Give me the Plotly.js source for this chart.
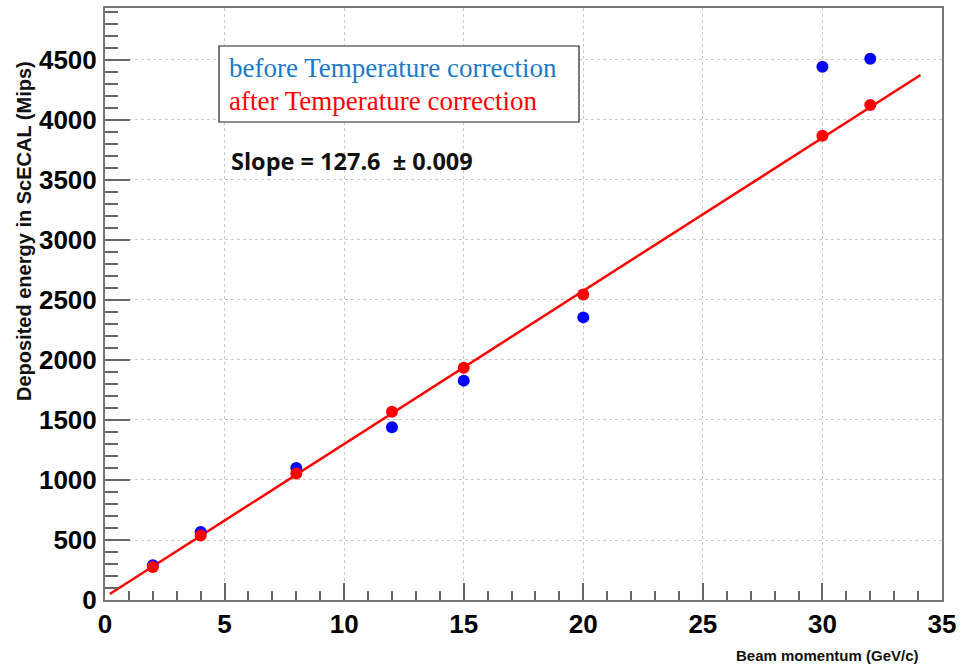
<!DOCTYPE html>
<html>
<head>
<meta charset="utf-8">
<script src="https://cdn.plot.ly/plotly-3.0.1.min.js"></script>
<style>html,body{margin:0;padding:0;background:#fff;}#chart{width:960px;height:667px;}</style>
</head>
<body>
<div id="chart"></div>
<script>
const momentum = [2, 4, 8, 12, 15, 20, 30, 32];
const beforeCorr = [290, 567, 1100, 1439, 1828, 2355, 4444, 4511];
const afterCorr = [275, 537, 1055, 1569, 1936, 2545, 3869, 4125];
const fitX = [0.2, 34.1];
const fitY = [50, 4375];
const legendLabels = ['before Temperature correction', 'after Temperature correction'];
const slopeText = 'Slope = 127.6  \u00b1 0.009';

const traces = [
  {x: fitX, y: fitY, mode: 'lines', line: {color: '#ff0000', width: 2.5}, hoverinfo: 'skip'},
  {x: momentum, y: beforeCorr, mode: 'markers', marker: {color: '#0000ff', size: 12}},
  {x: momentum, y: afterCorr, mode: 'markers', marker: {color: '#ff0000', size: 12}}
];

const tickFont = {family: 'Liberation Sans, Arial, sans-serif', size: 26, color: '#000', weight: 'bold'};

const layout = {
  width: 960, height: 667,
  margin: {l: 105, r: 18, t: 8, b: 67},
  paper_bgcolor: '#fff', plot_bgcolor: '#fff',
  showlegend: false,
  xaxis: {
    range: [0, 35], dtick: 5, tick0: 0,
    ticks: 'inside', ticklen: 17, tickwidth: 2, tickcolor: '#666',
    minor: {dtick: 1, ticks: 'inside', ticklen: 9, tickwidth: 2, tickcolor: '#666', showgrid: false},
    showgrid: true, gridcolor: '#c8c8c8', griddash: 'dot', gridwidth: 1,
    showline: true, linecolor: '#777', linewidth: 2, mirror: true,
    zeroline: false, tickfont: tickFont
  },
  yaxis: {
    range: [0, 4933], dtick: 500, tick0: 0,
    ticks: 'inside', ticklen: 25, tickwidth: 2, tickcolor: '#666',
    minor: {dtick: 100, ticks: 'inside', ticklen: 13, tickwidth: 2, tickcolor: '#666', showgrid: false},
    showgrid: true, gridcolor: '#c8c8c8', griddash: 'dot', gridwidth: 1,
    showline: true, linecolor: '#777', linewidth: 2, mirror: true,
    zeroline: false, tickfont: tickFont, ticklabelstandoff: 1
  },
  shapes: [
    {type: 'rect', xref: 'paper', yref: 'paper',
     x0: (219 - 105) / 837, x1: (579 - 105) / 837,
     y0: (600 - 122) / 592, y1: (600 - 46) / 592,
     line: {color: '#222', width: 1.2}, fillcolor: '#fff', layer: 'above'}
  ],
  annotations: [
    {text: legendLabels[0], xref: 'paper', yref: 'paper', x: (227 - 105) / 837, y: (600 - 68) / 592,
     xanchor: 'left', yanchor: 'middle', showarrow: false,
     font: {family: 'Liberation Serif, Times New Roman, serif', size: 27, color: '#1a7ac8'}},
    {text: legendLabels[1], xref: 'paper', yref: 'paper', x: (227 - 105) / 837, y: (600 - 101) / 592,
     xanchor: 'left', yanchor: 'middle', showarrow: false,
     font: {family: 'Liberation Serif, Times New Roman, serif', size: 27, color: '#ff0000'}},
    {text: slopeText, xref: 'paper', yref: 'paper', x: (229 - 105) / 837, y: (600 - 161) / 592,
     xanchor: 'left', yanchor: 'middle', showarrow: false,
     font: {family: 'Open Sans, Liberation Sans, sans-serif', size: 23.5, color: '#111', weight: 'bold'}},
    {text: 'Deposited energy in ScECAL (Mips)', xref: 'paper', yref: 'paper',
     x: (24 - 105) / 837, y: (600 - 231) / 592, textangle: -90,
     xanchor: 'center', yanchor: 'middle', showarrow: false,
     font: {family: 'Liberation Sans, Arial, sans-serif', size: 20, color: '#111', weight: 'bold'}},
    {text: 'Beam momentum (GeV/c)', xref: 'paper', yref: 'paper',
     x: (921 - 105) / 837, y: (600 - 655) / 592,
     xanchor: 'right', yanchor: 'middle', showarrow: false,
     font: {family: 'Liberation Sans, Arial, sans-serif', size: 15, color: '#111', weight: 'bold'}}
  ]
};

Plotly.newPlot('chart', traces, layout, {displayModeBar: false, staticPlot: true});
</script>
</body>
</html>
